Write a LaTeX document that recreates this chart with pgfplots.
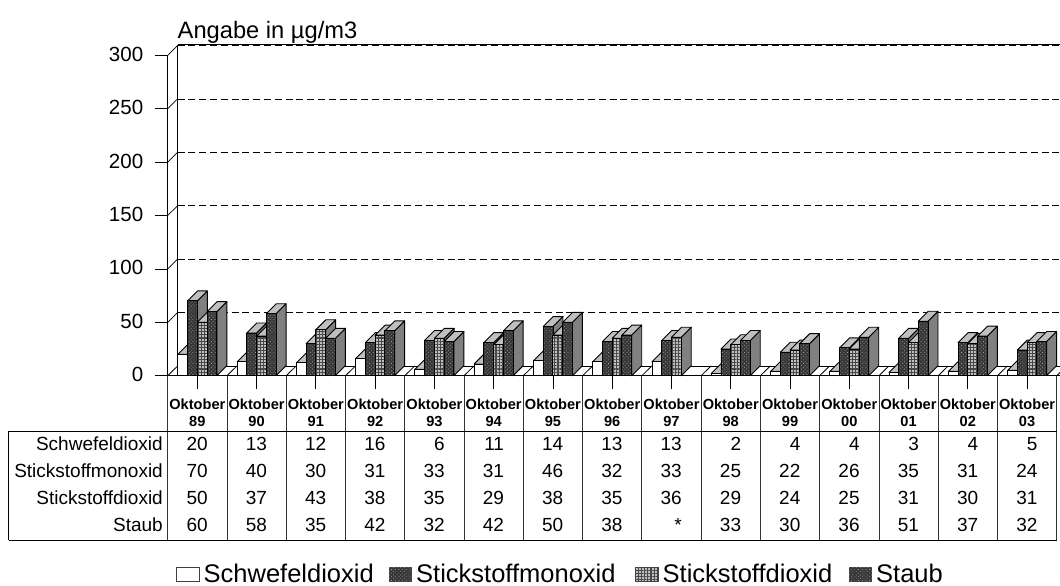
\documentclass[border=0pt]{standalone}
\usepackage{fontspec}
\setmainfont{Liberation Sans}
\usepackage{pgfplots}
\usepackage{pgfplotstable}
\pgfplotsset{compat=1.18}
\usetikzlibrary{patterns.meta}
\pgfplotstableread{
so2 no no2 st
20 70 50 60
13 40 37 58
12 30 43 35
16 31 38 42
6 33 35 32
11 31 29 42
14 46 38 50
13 32 35 38
13 33 36 nan
2 25 29 33
4 22 24 30
4 26 25 36
3 35 31 51
4 31 30 37
5 24 31 32
}\airdata
\tikzset{
 frontA/.style={fill=white},
 frontB/.style={fill=black!78,postaction={pattern={Dots[distance=2.6pt,radius=.5pt,angle=45]},pattern color=black!35}},
 frontC/.style={fill=black!25,postaction={pattern={Lines[distance=3.1pt,angle=0,line width=1.1pt]},pattern color=black!72},postaction={pattern={Lines[distance=3.1pt,angle=90,line width=1.1pt]},pattern color=black!72}},
}
% one series: side and top of each bar, then its front
\newcommand\series[3]{%
 \addplot[scatter,only marks,mark=*,mark size=0pt,mark options={draw=none,fill=none},
  visualization depends on={\thisrow{#1} \as \rawv},
  scatter/@pre marker code/.code={\pgfmathsetmacro\h{\rawv*1.068}\scope
   \draw[line width=.9pt,line join=round,fill=black!50](4.9pt,0pt)--(14.9pt,10pt)--(14.9pt,10pt-\h pt)--(4.9pt,-\h pt)--cycle;
   \draw[line width=.9pt,line join=round,fill=black!25](-4.9pt,0pt)--(5.1pt,10pt)--(14.9pt,10pt)--(4.9pt,0pt)--cycle;
  },
  scatter/@post marker code/.code={\endscope}]
  table[x expr=\coordindex+0.5+#2/59.27,y=#1]{\airdata};
 \addplot[ybar,bar width=9.8pt,bar shift=0pt,draw=black,line width=.9pt,#3]
  table[x expr=\coordindex+0.5+#2/59.27,y=#1]{\airdata};
}
\begin{document}
\begin{tikzpicture}[x=1pt,y=-1pt]
\path[use as bounding box](0,0) rectangle (1060,586);
% walls and floor
\fill[white](167.7,375.7)--(177.6,366)--(1066,366)--(1056.7,375.7)--cycle;
\foreach \t in {50,100,...,300}{
 \pgfmathsetmacro\yy{375.7-\t*1.068-9.8}
 \draw[line width=.8pt,dash pattern=on 7pt off 3.8pt](177.6,\yy)--(1066,\yy);
 \draw[line width=.7pt](167.7,\yy+9.8)--(177.6,\yy);
}
\draw[line width=.8pt](177.6,44.7)--(1066,44.7);
\draw[line width=1pt](167.7,375.7)--(167.7,55.3);
\draw[line width=.8pt](177.6,366)--(177.6,44.7);
\draw[line width=.8pt](177.6,366)--(1066,366);
\foreach \i in {0,...,15}{
 \pgfmathsetmacro\xx{167.7+\i*59.27}
 \draw[line width=.8pt](\xx,375.7)--(\xx+9.9,366);
}
\begin{scope}[x=1cm,y=1cm]
\begin{axis}[at={(167.7pt,-375.7pt)},anchor=south west,scale only axis,
 width=889pt,height=320.4pt,xmin=0,xmax=15,ymin=0,ymax=300,clip=false,clip mode=individual,
 axis line style={draw=none},
 xtick pos=bottom,ytick pos=left,
 ytick={0,50,...,300},
 xtick={0.5,1.5,...,14.5},
 xticklabels={{Oktober\\89},{Oktober\\90},{Oktober\\91},{Oktober\\92},{Oktober\\93},{Oktober\\94},{Oktober\\95},{Oktober\\96},{Oktober\\97},{Oktober\\98},{Oktober\\99},{Oktober\\00},{Oktober\\01},{Oktober\\02},{Oktober\\03}},
 xticklabel style={align=center,font=\fontsize{14.6}{17}\selectfont\bfseries,yshift=-10.5pt,inner sep=0pt},
 yticklabel style={font=\fontsize{20.5}{22}\selectfont,/pgf/number format/assume math mode=true,/pgf/number format/1000 sep={},xshift=-8pt,yshift=1pt},
 tick align=outside,major tick length=13pt,
 tick style={black,line width=.8pt}]
 \series{so2}{-14.6}{frontA}
 \series{no}{-4.87}{frontB}
 \series{no2}{4.87}{frontC}
 \series{st}{14.6}{frontB}
\end{axis}
\end{scope}
% baseline
\draw[line width=1pt](167.7,375.7)--(1060,375.7);
% data table
\foreach \i in {0,...,15}{
 \pgfmathsetmacro\xx{167.7+\i*59.27}
 \draw[line width=.8pt,black!80](\xx,375.7)--(\xx,540);
}
\draw[line width=1pt](8.5,431)--(1057,431);
\draw[line width=1pt](8.5,540)--(1057,540);
\draw[line width=1pt](8.5,431)--(8.5,540);
\newcommand\trow[3]{%
 \node[anchor=base east,inner sep=0pt,font=\fontsize{19}{20}\selectfont] at (163,#1) {#2};
 \foreach \v [count=\i from 0] in {#3}{
  \pgfmathsetmacro\xx{167.7+(\i+.5)*59.27+10.5}
  \node[anchor=base east,inner sep=0pt,font=\fontsize{19}{20}\selectfont] at (\xx,#1) {\v};
 }}
\trow{450}{Schwefeldioxid}{20,13,12,16,6,11,14,13,13,2,4,4,3,4,5}
\trow{477}{Stickstoffmonoxid}{70,40,30,31,33,31,46,32,33,25,22,26,35,31,24}
\trow{504}{Stickstoffdioxid}{50,37,43,38,35,29,38,35,36,29,24,25,31,30,31}
\trow{531}{Staub}{60,58,35,42,32,42,50,38,*,33,30,36,51,37,32}
% title
\node[anchor=base west,inner sep=0pt,font=\fontsize{23.7}{26}\selectfont] at (177.5,39) {Angabe in µg/m3};
% legend
\newcommand\lent[4]{%
 \draw[line width=.8pt,black!75,#3](#1,567.5) rectangle (#1+22.5,581.5);
 \node[anchor=base west,inner sep=0pt,font=\fontsize{25.5}{28}\selectfont] at (#1+27,582.5) {#4};
}
\lent{176.5}{}{frontA}{Schwefeldioxid}
\lent{389}{}{frontB}{Stickstoffmonoxid}
\lent{635.5}{}{frontC}{Stickstoffdioxid}
\lent{849}{}{frontB}{Staub}
\end{tikzpicture}
\end{document}
